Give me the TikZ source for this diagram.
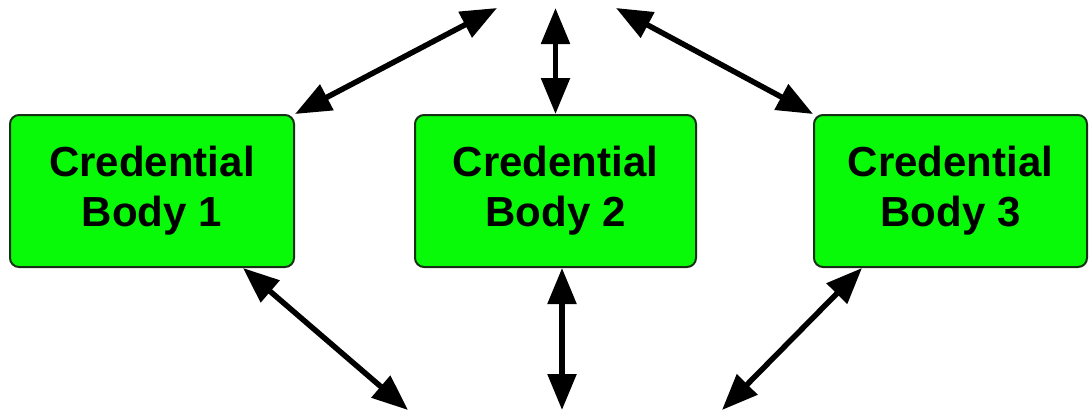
\documentclass[tikz,border=0pt]{standalone}
\usepackage{fontspec}
\setmainfont{Liberation Sans}
\usetikzlibrary{arrows.meta}
\definecolor{bodygreen}{HTML}{08FA08}
\definecolor{bodyedge}{HTML}{163016}
\begin{document}
\begin{tikzpicture}[x=1pt,y=-1pt,
  credbox/.style={draw=bodyedge, line width=2pt, fill=bodygreen, rounded corners=9pt,
    minimum height=152pt, inner sep=0pt, align=center,
    font=\fontsize{42}{50}\selectfont\bfseries},
  link/.style={line width=5.5pt, {Triangle[length=36pt,width=28pt]}-{Triangle[length=36pt,width=28pt]}}]
  \useasboundingbox (0,0) rectangle (1089,413);

  % the three credential bodies
  \node[credbox, minimum width=284pt] (b1) at (152,191) {Credential\\Body 1};
  \node[credbox, minimum width=281pt] (b2) at (555.5,191) {Credential\\Body 2};
  \node[credbox, minimum width=273pt] (b3) at (950.5,191) {Credential\\Body 3};

  % free ends of the links above and below
  \coordinate (t1) at (497,8);
  \coordinate (t2) at (555.5,8);
  \coordinate (t3) at (616,8);
  \coordinate (u1) at (408,410);
  \coordinate (u2) at (562,410);
  \coordinate (u3) at (722,410);

  % links upward
  \draw[link] (b1.north east) -- (t1);
  \draw[link] (b2.north) -- (t2);
  \draw[link] (b3.north west) -- (t3);

  % links downward
  \draw[link] ([xshift=91pt]b1.south) -- (u1);
  \draw[link] ([xshift=6.5pt]b2.south) -- (u2);
  \draw[link] ([xshift=-88.5pt]b3.south) -- (u3);
\end{tikzpicture}
\end{document}
